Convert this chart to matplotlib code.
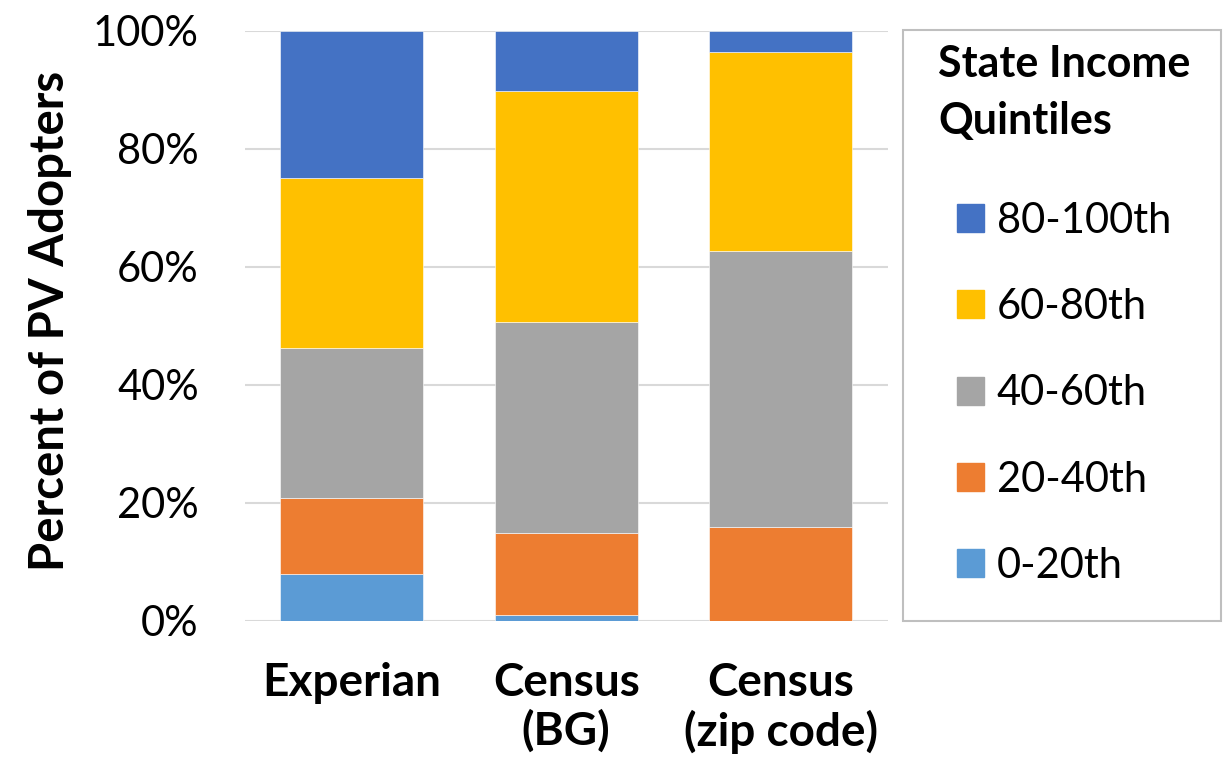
import numpy as np
import matplotlib.pyplot as plt
from matplotlib.patches import Patch, Rectangle
from matplotlib.ticker import PercentFormatter

plt.rcParams['font.family'] = ['Lato', 'DejaVu Sans']

sources = ['Experian', 'Census\n(BG)', 'Census\n(zip code)']
quintiles = ['0-20th', '20-40th', '40-60th', '60-80th', '80-100th']
q0_20 = [8.0, 1.0, 0.0]
q20_40 = [12.8, 13.8, 15.8]
q40_60 = [25.4, 35.9, 46.8]
q60_80 = [28.8, 39.0, 33.8]
q80_100 = [25.0, 10.3, 3.6]
colors = ['#5B9BD5', '#ED7D31', '#A5A5A5', '#FFC000', '#4472C4']

fig = plt.figure(figsize=(12.23, 7.65), dpi=100)
ax = fig.add_axes([0.200, 0.1886, 0.526, 0.7713])

x = np.arange(len(sources))
bottom = np.zeros(len(sources))
for vals, c in zip([q0_20, q20_40, q40_60, q60_80, q80_100], colors):
    ax.bar(x, vals, width=0.667, bottom=bottom, color=c, edgecolor='white', linewidth=0.4, zorder=3)
    bottom += np.array(vals)

ax.set_xlim(-0.5, 2.5)
ax.set_ylim(0, 100)
ax.set_yticks(np.arange(0, 101, 20))
ax.yaxis.set_major_formatter(PercentFormatter(decimals=0))
ax.grid(axis='y', color='#d9d9d9', linewidth=1.5, zorder=0)
for s in ax.spines.values():
    s.set_visible(False)
ax.tick_params(axis='y', length=0, labelsize=30, pad=33)
ax.tick_params(axis='x', length=0, pad=30)
ax.set_xticks(x)
ax.set_xticklabels(sources, fontweight='bold', fontsize=33, linespacing=1.15)

# y label
fig.text(50 / 1223, 1 - 321 / 765, 'Percent of PV Adopters', rotation=90,
         ha='center', va='center', fontsize=34, fontweight='bold')

# legend box
fig.patches.append(Rectangle((903 / 1223, 1 - 621 / 765), 318 / 1223, 591 / 765,
                             transform=fig.transFigure, fill=False, edgecolor='#bfbfbf', linewidth=1.5))
handles = [Patch(color=c) for c in colors][::-1]
leg = fig.legend(handles, quintiles[::-1], loc='upper left', bbox_to_anchor=(938 / 1223, 1 - 44 / 765),
                 frameon=False, fontsize=30, title='State Income\nQuintiles',
                 title_fontproperties={'weight': 'bold', 'size': 31},
                 handlelength=0.65, handleheight=0.65, handletextpad=0.3, labelspacing=1.16,
                 borderpad=0, borderaxespad=0)
leg.get_title().set_linespacing(1.5)
leg._legend_box.align = 'center'
leg._legend_box.sep = 44

fig.savefig('out.png', dpi=100)
